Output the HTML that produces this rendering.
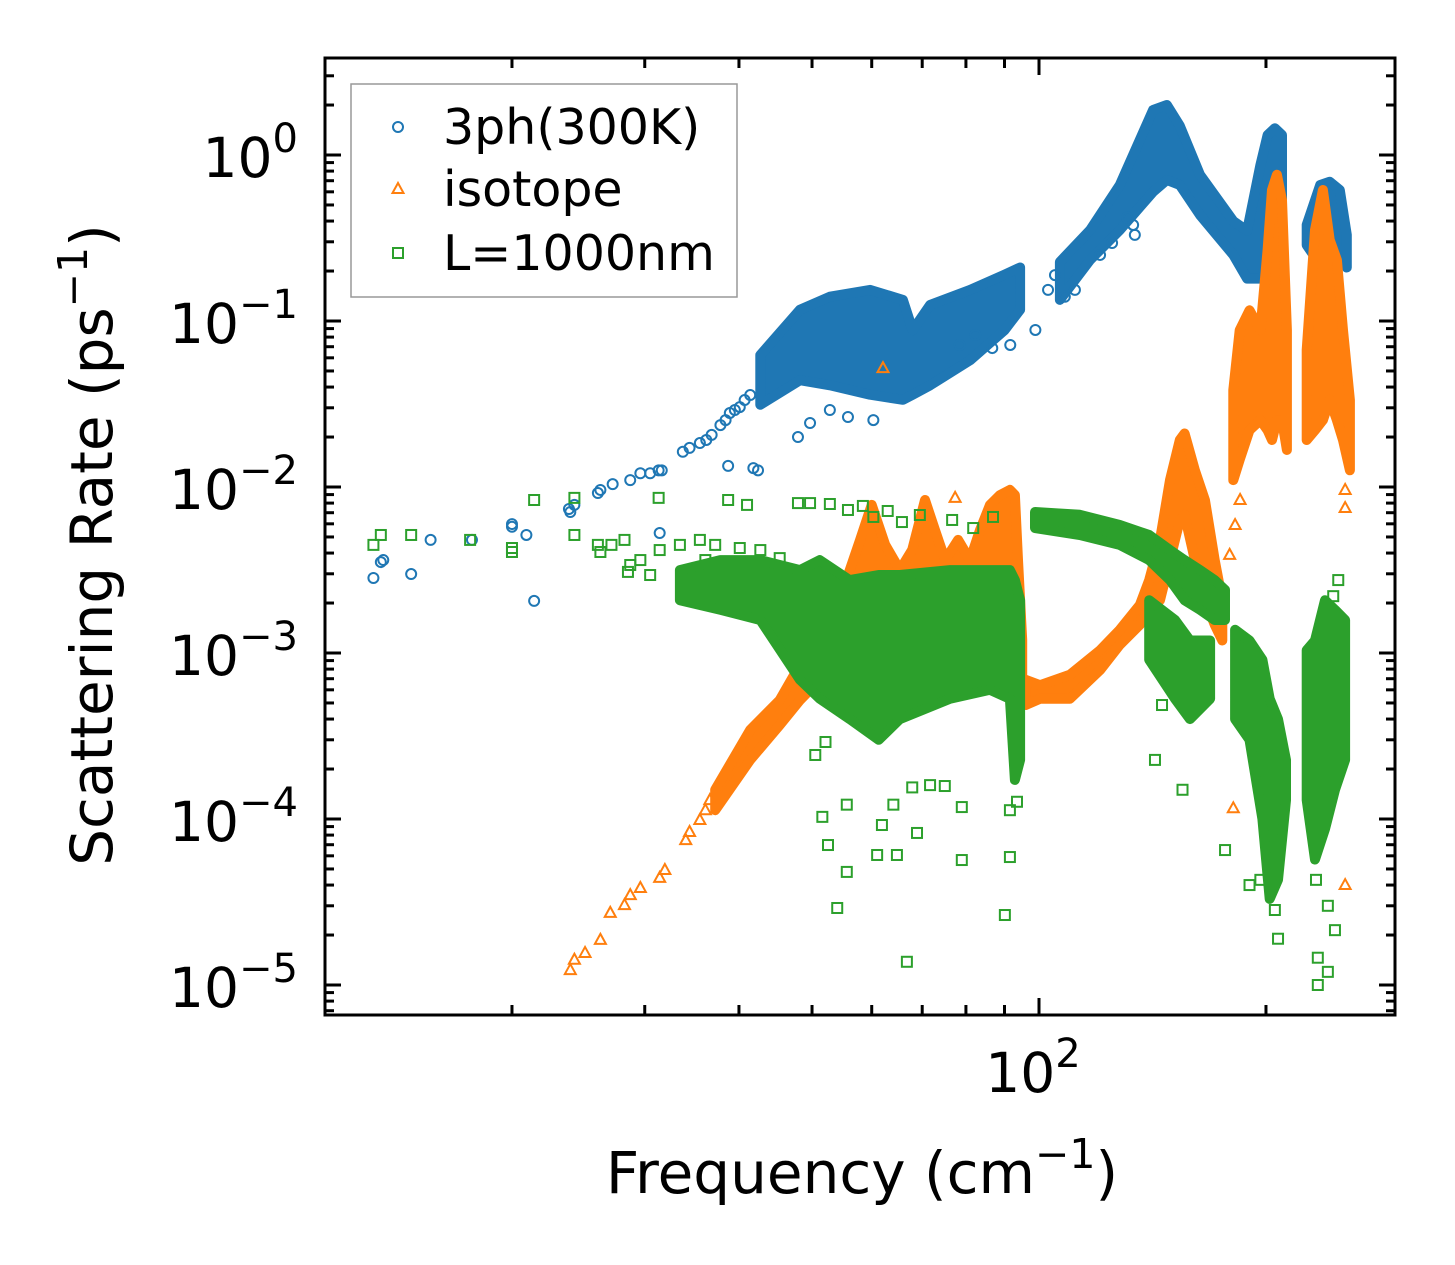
<!DOCTYPE html>
<html><head><meta charset="utf-8">
<style>
html,body{margin:0;padding:0;background:#fff;}
svg{display:block;font-family:"DejaVu Sans","Liberation Sans",sans-serif;}
</style></head>
<body>
<svg id="chart" width="1455" height="1265" viewBox="0 0 1455 1265" xmlns="http://www.w3.org/2000/svg">
<rect x="0" y="0" width="1455" height="1265" fill="#fff"/>
<g id="plot"></g>
<g id="axes"></g>
</svg>
<script>
// ---- Axis ticks ----
const yDecades = [0, -1, -2, -3, -4, -5];
const xMinorTicks = [20, 30, 40, 50, 60, 70, 80, 90, 200];
const xMajorTicks = [100];

// ---- 3ph(300K) dense bands ----
const phBand1F = [42.7, 48.2, 52.8, 59.7, 66, 68, 71.7, 81, 90, 94.4];
const phBand1Hi = [0.0624, 0.117, 0.14, 0.154, 0.134, 0.088, 0.125, 0.154, 0.19, 0.21];
const phBand1Lo = [0.0313, 0.044, 0.041, 0.036, 0.0335, 0.036, 0.041, 0.058, 0.088, 0.117];
const phBand2F = [106.6, 116.9, 128, 141.7, 147.8, 153.7, 163.5, 181, 188.8, 196.6, 201, 205.5, 210];
const phBand2Hi = [0.227, 0.353, 0.66, 1.87, 2.0, 1.5, 0.76, 0.4, 0.35, 0.87, 1.32, 1.45, 1.32];
const phBand2Lo = [0.134, 0.233, 0.353, 0.6, 0.707, 0.66, 0.435, 0.25, 0.18, 0.18, 0.2, 0.25, 0.4];
const phBand3F = [226.5, 236, 243, 250.6, 256];
const phBand3Hi = [0.38, 0.66, 0.69, 0.615, 0.33];
const phBand3Lo = [0.287, 0.218, 0.218, 0.268, 0.21];
// ---- 3ph(300K) individual points ----
const phF = [13.1,13.4,13.5,14.7,15.6,17.7,20.0,20.0,20.9,21.4,23.8,23.9,24.2,26.0,26.2,27.2,28.7,29.6,30.5,31.3,31.4,31.6,33.7,34.4,35.5,36.2,36.8,37.8,38.4,38.7,38.9,39.5,40.1,40.7,41.4,41.8,42.4,47.9,49.7,52.8,55.8,60.3,78.5,82.3,86.7,91.6,98.9,102.8,105.0,108.2,111.6,120.5,125.0,134.0,130.9,133.3];
const phV = [2.83e-3,3.53e-3,3.63e-3,2.99e-3,4.8e-3,4.8e-3,5.98e-3,5.76e-3,5.14e-3,2.06e-3,7.37e-3,7.07e-3,7.8e-3,9.2e-3,9.6e-3,1.04e-2,1.10e-2,1.21e-2,1.21e-2,1.26e-2,5.28e-3,1.26e-2,1.63e-2,1.72e-2,1.84e-2,1.92e-2,2.06e-2,2.36e-2,2.53e-2,1.34e-2,2.79e-2,2.91e-2,3.03e-2,3.34e-2,3.58e-2,1.30e-2,1.26e-2,2.0e-2,2.43e-2,2.91e-2,2.64e-2,2.53e-2,7.17e-2,8.24e-2,6.87e-2,7.17e-2,8.83e-2,0.154,0.189,0.14,0.154,0.25,0.295,0.33,0.42,0.379];

// ---- isotope dense bands ----
const isoBand1F = [37.2, 41.4, 45.3, 48.2, 51.2, 54.4, 57.9, 60, 62.5, 65.4, 67.9, 70.6, 72.8, 75.1, 78.1, 81, 83.5, 86.1, 88.8, 91.5, 92.9, 93.8, 95];
const isoBand1Hi = [1.5e-4, 3.44e-4, 5.2e-4, 8.5e-4, 1.58e-3, 2.09e-3, 4.8e-3, 7.8e-3, 4.5e-3, 3.16e-3, 4.18e-3, 8.35e-3, 5.5e-3, 3.63e-3, 4.8e-3, 3.63e-3, 5.5e-3, 7.8e-3, 8.95e-3, 9.6e-3, 8.95e-3, 3.63e-3, 1.2e-3];
const isoBand1Lo = [1.13e-4, 2.27e-4, 3.68e-4, 5.2e-4, 6.9e-4, 7.9e-4, 1.04e-3, 1.04e-3, 1.04e-3, 1.04e-3, 1.04e-3, 1.04e-3, 1.04e-3, 1.04e-3, 1.04e-3, 1.04e-3, 1.04e-3, 1.04e-3, 1.04e-3, 1.04e-3, 1.04e-3, 5.3e-4, 5.3e-4];
const isoBand2F = [96, 100.3, 109.9, 120.5, 128, 136.1, 140, 144.7, 149.2, 153.7, 156, 161, 166, 171, 175];
const isoBand2Hi = [6.9e-4, 6.4e-4, 7.4e-4, 1.04e-3, 1.38e-3, 1.95e-3, 2.75e-3, 4.8e-3, 1.1e-2, 1.92e-2, 2.1e-2, 1.26e-2, 8.3e-3, 3.63e-3, 2.08e-3];
const isoBand2Lo = [4.86e-4, 5.3e-4, 5.3e-4, 7.9e-4, 1.12e-3, 1.48e-3, 1.82e-3, 2.08e-3, 3.63e-3, 6.3e-3, 6.8e-3, 3.63e-3, 2.08e-3, 1.48e-3, 1.19e-3];
const isoBand3F = [181, 184.6, 190.2, 196.6, 201, 203.7, 206.8, 210, 213.2];
const isoBand3Hi = [3.84e-2, 8.8e-2, 0.116, 8.8e-2, 0.268, 0.615, 0.76, 0.535, 8.8e-2];
const isoBand3Lo = [1.1e-2, 1.46e-2, 2.2e-2, 2.53e-2, 2.2e-2, 1.92e-2, 2.53e-2, 2.53e-2, 1.67e-2];
const isoBand4F = [226.5, 232.3, 238, 243, 248.4, 253, 258.4];
const isoBand4Hi = [6.7e-2, 0.353, 0.615, 0.308, 0.233, 8.8e-2, 3.34e-2];
const isoBand4Lo = [1.92e-2, 2.2e-2, 2.53e-2, 3.35e-2, 2.53e-2, 1.92e-2, 1.26e-2];
// ---- isotope individual points ----
const isoF = [23.9,24.2,25.0,26.2,27.0,28.2,28.7,29.6,31.4,31.9,34.0,34.4,35.5,36.1,36.6,62.1,77.4,181,254.7,254.7,254.7,184.8,182,179];
const isoV = [1.23e-5,1.42e-5,1.56e-5,1.87e-5,2.72e-5,3.03e-5,3.48e-5,3.84e-5,4.42e-5,4.93e-5,7.46e-5,8.35e-5,9.86e-5,1.13e-4,1.3e-4,5.2e-2,8.6e-3,1.16e-4,4e-5,9.6e-3,7.47e-3,8.35e-3,5.9e-3,3.9e-3];

// ---- L=1000nm dense bands ----
const bdBand1F = [33.4, 37.8, 42.7, 48.2, 51.2, 56.1, 61.3, 65.4, 76.2, 86.1, 91.5, 92.9, 94.4];
const bdBand1Hi = [3.16e-3, 3.63e-3, 3.63e-3, 3.16e-3, 3.63e-3, 2.75e-3, 2.95e-3, 2.95e-3, 3.16e-3, 3.16e-3, 3.16e-3, 2.75e-3, 2.08e-3];
const bdBand1Lo = [2.08e-3, 1.82e-3, 1.58e-3, 6.9e-4, 5.3e-4, 4e-4, 3e-4, 4e-4, 5.3e-4, 6e-4, 5.3e-4, 1.72e-4, 2.27e-4];
const bdBand2F = [98.8, 113.3, 128, 140, 149.2, 156, 163.5, 171, 176.5];
const bdBand2Hi = [7.07e-3, 6.8e-3, 5.9e-3, 5.14e-3, 4.17e-3, 3.63e-3, 3.16e-3, 2.75e-3, 2.4e-3];
const bdBand2Lo = [5.66e-3, 5.14e-3, 4.48e-3, 3.63e-3, 2.75e-3, 2.08e-3, 1.82e-3, 1.58e-3, 1.58e-3];
const bdBand3F = [140, 151.5, 158.6, 168.6];
const bdBand3Hi = [2.08e-3, 1.58e-3, 1.19e-3, 1.19e-3];
const bdBand3Lo = [9.1e-4, 5.3e-4, 4e-4, 5.3e-4];
const bdBand4F = [182, 190.2, 197.8, 202.3, 207.5, 212.6];
const bdBand4Hi = [1.38e-3, 1.19e-3, 9.1e-4, 5.3e-4, 4e-4, 2.27e-4];
const bdBand4Lo = [4e-4, 3e-4, 1e-4, 3.3e-5, 4.3e-5, 1.3e-4];
const bdBand5F = [226.5, 232.3, 239.5, 246.9, 254.7];
const bdBand5Hi = [1.04e-3, 1.19e-3, 2.08e-3, 1.82e-3, 1.58e-3];
const bdBand5Lo = [1.3e-4, 5.7e-5, 8.7e-5, 1.5e-4, 2.27e-4];
// ---- L=1000nm individual points ----
const bdF = [13.1,13.4,14.7,17.6,20.0,21.4,20,24.2,24.2,26.0,27.1,28.2,28.7,29.6,31.3,31.4,33.4,35.5,36.1,37.2,38.7,40.1,42.7,45.3,26.2,28.5,30.5,41,47.9,49.7,52.8,55.8,58.4,60.3,63,65.8,69.5,76.7,81.8,86.9,50.5,52.1,51.6,52.5,55.6,54.0,66.8,61,64.8,68.9,61.9,79,91.5,90.1,71.7,75,67.9,79,64.1,55.6,91.5,93.5,155,145.6,142.5,190.2,196.6,205.5,207.5,233,234.3,241.6,246.9,241.6,249.4,245.6,176.5,234.3];
const bdV = [4.48e-3,5.14e-3,5.14e-3,4.8e-3,4.29e-3,8.35e-3,4.06e-3,8.6e-3,5.14e-3,4.48e-3,4.48e-3,4.8e-3,3.39e-3,3.63e-3,8.6e-3,4.17e-3,4.48e-3,4.8e-3,3.63e-3,4.48e-3,8.35e-3,4.29e-3,4.17e-3,3.73e-3,4.06e-3,3.08e-3,2.95e-3,7.8e-3,8.0e-3,8.0e-3,7.9e-3,7.27e-3,7.69e-3,6.6e-3,7.17e-3,6.15e-3,6.78e-3,6.33e-3,5.66e-3,6.6e-3,2.43e-4,2.91e-4,1.03e-4,6.97e-5,4.8e-5,2.91e-5,1.38e-5,6.07e-5,6.07e-5,8.24e-5,9.2e-5,5.66e-5,5.9e-5,2.64e-5,1.6e-4,1.58e-4,1.55e-4,1.18e-4,1.22e-4,1.22e-4,1.13e-4,1.27e-4,1.5e-4,4.86e-4,2.27e-4,4e-5,4.3e-5,2.83e-5,1.9e-5,4.3e-5,1.46e-5,1.2e-5,2.14e-5,3.0e-5,2.75e-3,2.2e-3,6.5e-5,1e-5];

// ---- scales ----
const PX = {l:325, r:1395, t:58, b:1015};
function xS(f){ return 1039 + 754*Math.log10(f/100); }
function yS(v){ return 155 - 166*Math.log10(v); }
const NS = 'http://www.w3.org/2000/svg';
const plot = document.getElementById('plot');
const axes = document.getElementById('axes');
function mk(tag, attrs, parent){
  const e = document.createElementNS(NS, tag);
  for (const k in attrs) e.setAttribute(k, attrs[k]);
  parent.appendChild(e);
  return e;
}
const C = {blue:'#1f77b4', orange:'#ff7f0e', green:'#2ca02c'};

const defs = mk('defs', {}, document.getElementById('chart'));
const cp = mk('clipPath', {id:'clip'}, defs);
mk('rect', {x:PX.l, y:PX.t, width:PX.r-PX.l, height:PX.b-PX.t}, cp);
plot.setAttribute('clip-path', 'url(#clip)');

function band(fs, his, los, color, name){
  let pts = [];
  for (let i=0;i<fs.length;i++) pts.push(xS(fs[i]).toFixed(1)+','+yS(his[i]).toFixed(1));
  for (let i=fs.length-1;i>=0;i--) pts.push(xS(fs[i]).toFixed(1)+','+yS(los[i]).toFixed(1));
  const p = mk('polygon', {points:pts.join(' '), fill:color, stroke:color, 'stroke-width':10, 'stroke-linejoin':'round'}, plot);
  
  
}
function circle(cx, cy, g){ return mk('circle', {cx:cx, cy:cy, r:5, fill:'none', stroke:C.blue, 'stroke-width':2}, g); }
function tri(cx, cy, g){ return mk('polygon', {points:`${cx},${cy-6} ${cx-5.5},${cy+4} ${cx+5.5},${cy+4}`, fill:'none', stroke:C.orange, 'stroke-width':2}, g); }
function sq(cx, cy, g){ return mk('rect', {x:cx-5, y:cy-5, width:10, height:10, fill:'none', stroke:C.green, 'stroke-width':2}, g); }

function series(fs, vs, fn, name){
  const g = mk('g', {}, plot);
  
  
  for (let i=0;i<fs.length;i++){
    const m = fn(xS(fs[i]), yS(vs[i]), g);
    
    
  }
}
band(phBand1F, phBand1Hi, phBand1Lo, C.blue, '3ph-cloud-low');
band(phBand2F, phBand2Hi, phBand2Lo, C.blue, '3ph-cloud-mid');
band(phBand3F, phBand3Hi, phBand3Lo, C.blue, '3ph-cloud-high');
series(phF, phV, circle, '3ph-points');
band(isoBand1F, isoBand1Hi, isoBand1Lo, C.orange, 'isotope-cloud-low');
band(isoBand2F, isoBand2Hi, isoBand2Lo, C.orange, 'isotope-cloud-mid');
band(isoBand3F, isoBand3Hi, isoBand3Lo, C.orange, 'isotope-cloud-peak1');
band(isoBand4F, isoBand4Hi, isoBand4Lo, C.orange, 'isotope-cloud-peak2');
series(isoF, isoV, tri, 'isotope-points');
band(bdBand1F, bdBand1Hi, bdBand1Lo, C.green, 'boundary-cloud-low');
band(bdBand2F, bdBand2Hi, bdBand2Lo, C.green, 'boundary-cloud-top');
band(bdBand3F, bdBand3Hi, bdBand3Lo, C.green, 'boundary-cloud-mid');
band(bdBand4F, bdBand4Hi, bdBand4Lo, C.green, 'boundary-cloud-col1');
band(bdBand5F, bdBand5Hi, bdBand5Lo, C.green, 'boundary-cloud-col2');
series(bdF, bdV, sq, 'boundary-points');

const frame = mk('rect', {x:PX.l, y:PX.t, width:PX.r-PX.l, height:PX.b-PX.t, fill:'none', stroke:'#000', 'stroke-width':3}, axes);


function tick(x1,y1,x2,y2){ mk('line', {x1:x1,y1:y1,x2:x2,y2:y2,stroke:'#000','stroke-width':3}, axes); }
for (let d=-6; d<=0; d++){
  for (let m=1; m<10; m++){
    const v = m*Math.pow(10,d);
    const y = yS(v);
    if (y < PX.t || y > PX.b) continue;
    const len = m===1 ? 16 : 9;
    tick(PX.l, y, PX.l+len, y);
    tick(PX.r, y, PX.r-len, y);
  }
}
yDecades.forEach(d => {
  const t = mk('text', {x:298, y:yS(Math.pow(10,d))+22, 'text-anchor':'end', 'font-size':55, fill:'#000'}, axes);
  
  
  t.appendChild(document.createTextNode('10'));
  const s = mk('tspan', {'font-size':40, dy:-25}, t);
  s.textContent = d===0 ? '0' : '\u2212' + Math.abs(d);
});
xMinorTicks.forEach(f => { const x=xS(f); tick(x,PX.b,x,PX.b-10); tick(x,PX.t,x,PX.t+10); });
xMajorTicks.forEach(f => {
  const x=xS(f); tick(x,PX.b,x,PX.b-17); tick(x,PX.t,x,PX.t+17);
  const t = mk('text', {x:x-6, y:1092, 'text-anchor':'middle', 'font-size':55, fill:'#000'}, axes);
  
  
  t.appendChild(document.createTextNode('10'));
  const s = mk('tspan', {'font-size':40, dy:-25}, t);
  s.textContent = '2';
});
const xt = mk('text', {x:862, y:1193, 'text-anchor':'middle', 'font-size':58, fill:'#000'}, axes);


xt.appendChild(document.createTextNode('Frequency (cm'));
mk('tspan', {'font-size':41, dy:-25}, xt).textContent = '\u22121';
mk('tspan', {dy:25}, xt).textContent = ')';
const yt = mk('text', {x:0, y:0, 'text-anchor':'middle', 'font-size':58, fill:'#000', transform:'translate(112,545) rotate(-90)'}, axes);


yt.appendChild(document.createTextNode('Scattering Rate (ps'));
mk('tspan', {'font-size':41, dy:-25}, yt).textContent = '\u22121';
mk('tspan', {dy:25}, yt).textContent = ')';

const lg = mk('g', {}, axes);


mk('rect', {x:351, y:84, width:386, height:213, fill:'#fff', 'fill-opacity':0.8, stroke:'#999', 'stroke-width':1.5}, lg);
const entries = [['3ph(300K)', circle, 127], ['isotope', tri, 189], ['L=1000nm', sq, 253]];
entries.forEach(e => {
  const g = mk('g', {}, lg);
  
  
  e[1](398, e[2], g);
  const t = mk('text', {x:443, y:e[2]+17, 'font-size':49, fill:'#000'}, g);
  t.textContent = e[0];
});
</script>
</body></html>
